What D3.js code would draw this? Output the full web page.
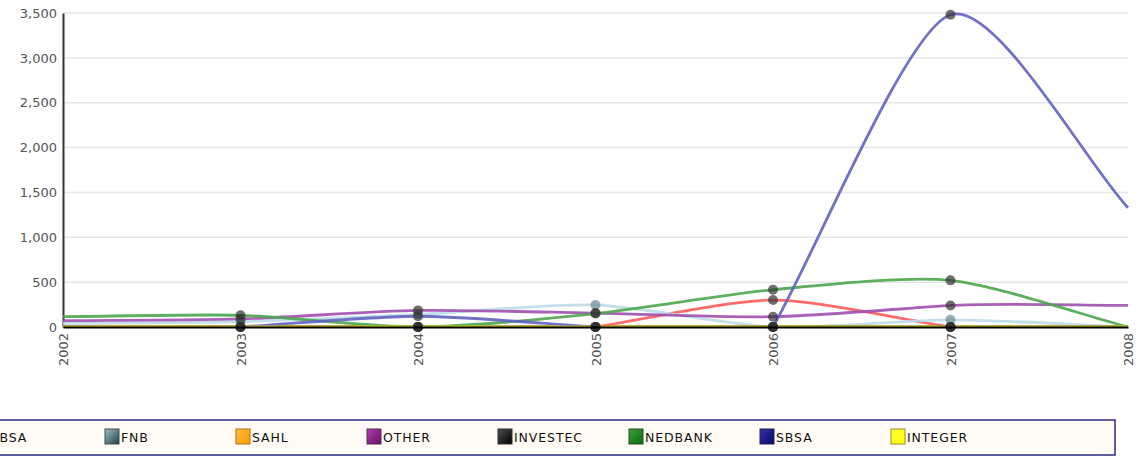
<!DOCTYPE html>
<head>
    <script src="https://d3js.org/d3.v7.min.js"></script>
    <style>
      body { margin: 0; background: #fff; }
      svg { display: block; }
    </style>
</head>

<body>
    <div id="chart"></div>
</body>

<script>

  // data
  const years = ["2002", "2003", "2004", "2005", "2006", "2007", "2008"];
  const seriesNames = ["ABSA", "FNB", "SAHL", "OTHER", "INVESTEC", "NEDBANK", "SBSA", "INTEGER"];
  const absa     = [0, 0, 0, 0, 300, 0, 0];
  const fnb      = [40, 60, 140, 245, 0, 80, 0];
  const sahl     = [0, 0, 0, 0, 0, 0, 0];
  const other    = [70, 90, 185, 155, 115, 240, 240];
  const investec = [0, 0, 0, 0, 0, 0, 0];
  const nedbank  = [115, 130, 0, 150, 415, 520, 0];
  const sbsa     = [0, 0, 120, 0, 0, 3480, 1330];
  const integer  = [0, 0, 0, 0, 0, 0, 0];
  const yTicks = [0, 500, 1000, 1500, 2000, 2500, 3000, 3500];

  const lineColors = ["#ff5a5a", "#bcdce8", "#e8a030", "#a050b0", "#222222", "#4ca64c", "#6262c0", "#e6dc20"];
  // legend swatch gradients: [light, dark, border]
  const swatch = [
    ["#ff6060", "#c01010", "#801010"],
    ["#a0c0c8", "#1e3c48", "#3a4a50"],
    ["#ffc040", "#ff9a00", "#b07010"],
    ["#b040b0", "#6a0a6a", "#503050"],
    ["#505050", "#000000", "#303030"],
    ["#40a040", "#0a6a0a", "#205020"],
    ["#3030a8", "#0a0a68", "#202050"],
    ["#ffff40", "#ffff00", "#909020"]
  ];

  const allValues = [absa, fnb, sahl, other, investec, nedbank, sbsa, integer];
  const series = seriesNames.map((name, i) => ({ name: name, values: allValues[i] }));

  // spline: tangent is the mean of the two neighbouring slopes,
  // but a flat neighbour is ignored (the curve leaves along the other one)
  function SmoothCurve(context) { this._context = context; }
  SmoothCurve.prototype = {
    areaStart() {}, areaEnd() {},
    lineStart() { this._pts = []; },
    point(x, y) { this._pts.push([+x, +y]); },
    lineEnd() {
      const p = this._pts, n = p.length, ctx = this._context;
      if (!n) return;
      const s = [];
      for (let i = 0; i < n - 1; i++) s.push((p[i + 1][1] - p[i][1]) / (p[i + 1][0] - p[i][0]));
      const m = p.map((d, i) => {
        if (i === 0) return s[0];
        if (i === n - 1) return s[n - 2];
        const a = s[i - 1], b = s[i];
        if (Math.abs(a) < 1e-6) return b;
        if (Math.abs(b) < 1e-6) return a;
        return (a + b) / 2;
      });
      ctx.moveTo(p[0][0], p[0][1]);
      for (let i = 0; i < n - 1; i++) {
        const dx = (p[i + 1][0] - p[i][0]) * 0.25;
        ctx.bezierCurveTo(p[i][0] + dx, p[i][1] + m[i] * dx,
                          p[i + 1][0] - dx, p[i + 1][1] - m[i + 1] * dx,
                          p[i + 1][0], p[i + 1][1]);
      }
    }
  };
  const curveSmooth = context => new SmoothCurve(context);

  const W = 1141, H = 457;
  const margin = {top: 13, right: 13, bottom: 130, left: 63},
    width = W - margin.left - margin.right,
    height = H - margin.top - margin.bottom;

  const svg = d3.select("#chart")
    .append("svg")
    .attr("width", W)
    .attr("height", H);

  const defs = svg.append("defs");
  defs.append("clipPath")
    .attr("id", "plotclip")
    .append("rect")
    .attr("x", 0)
    .attr("y", -3)
    .attr("width", width + 2)
    .attr("height", height + 3);

  const g = svg.append("g")
    .attr("transform", `translate(${margin.left}, ${margin.top})`);

  const x = d3.scalePoint()
    .domain(years)
    .range([0, width]);

  const y = d3.scaleLinear()
    .domain([0, 3500])
    .range([height, 0]);

  // grid
  g.append("g")
    .selectAll("line")
    .data(yTicks.slice(1))
    .join("line")
    .attr("x1", 0)
    .attr("x2", width)
    .attr("y1", d => y(d))
    .attr("y2", d => y(d))
    .attr("stroke", "#e6e6e6")
    .attr("stroke-width", 1.5);

  // Y Axis
  const yAxis = g.append("g")
    .call(d3.axisLeft(y).tickValues(yTicks).tickSize(0).tickPadding(6).tickFormat(d3.format(",")));
  yAxis.select(".domain").attr("stroke", "#333").attr("stroke-width", 2);
  yAxis.selectAll("text")
    .attr("fill", "#555")
    .style("font-family", "'DejaVu Sans', Verdana, sans-serif")
    .style("font-size", "13px");

  // lines
  const line = d3.line()
    .x((d, i) => x(years[i]))
    .y(d => y(d))
    .curve(curveSmooth);

  g.append("g")
    .attr("clip-path", "url(#plotclip)")
    .selectAll("path")
    .data(series)
    .join("path")
    .attr("d", d => line(d.values))
    .attr("fill", "none")
    .attr("stroke", (d, i) => lineColors[i])
    .attr("stroke-width", 2.8)
    .attr("stroke-opacity", 0.9);

  // markers on inner years
  const pts = [];
  series.forEach((s, si) => s.values.forEach((v, i) => {
    if (i > 0 && i < years.length - 1) pts.push({ year: years[i], v: v, si: si });
  }));
  g.append("g")
    .selectAll("circle")
    .data(pts)
    .join("circle")
    .attr("cx", d => x(d.year))
    .attr("cy", d => y(d.v))
    .attr("r", 5)
    .attr("fill", d => d.si === 1 ? "#6a8a94" : "#333")
    .attr("fill-opacity", 0.7);

  // X Axis
  const xAxis = g.append("g")
    .attr("transform", `translate(0, ${height})`)
    .call(d3.axisBottom(x).tickSize(0).tickPadding(6));
  xAxis.select(".domain").attr("stroke", "#000").attr("stroke-width", 2);
  xAxis.selectAll("text")
    .attr("fill", "#555")
    .style("font-family", "'DejaVu Sans', Verdana, sans-serif")
    .style("font-size", "13px")
    .attr("transform", "rotate(-90)")
    .attr("x", -6)
    .attr("y", 0)
    .attr("dy", "0.35em")
    .style("text-anchor", "end");

  // legend
  const legend = svg.append("g").attr("transform", "translate(-40, 420)");
  legend.append("rect")
    .attr("x", 0)
    .attr("y", 0)
    .attr("width", 1155)
    .attr("height", 35)
    .attr("fill", "#fffbf4")
    .attr("stroke", "#2a2a80")
    .attr("stroke-width", 1.5);

  swatch.forEach((c, i) => {
    const grad = defs.append("linearGradient")
      .attr("id", "sw" + i)
      .attr("x1", 0).attr("y1", 0).attr("x2", 1).attr("y2", 1);
    grad.append("stop").attr("offset", "0%").attr("stop-color", c[0]);
    grad.append("stop").attr("offset", "100%").attr("stop-color", c[1]);
  });

  const items = legend.selectAll(".item")
    .data(seriesNames)
    .join("g")
    .attr("class", "item")
    .attr("transform", (d, i) => `translate(${14 + i * 131}, 9)`);
  items.append("rect")
    .attr("width", 14)
    .attr("height", 15)
    .attr("fill", (d, i) => `url(#sw${i})`)
    .attr("stroke", (d, i) => swatch[i][2])
    .attr("stroke-width", 1);
  items.append("text")
    .attr("x", 16)
    .attr("y", 12.5)
    .attr("fill", "#111")
    .style("font-family", "'DejaVu Sans', Verdana, sans-serif")
    .style("font-size", "12.5px")
    .style("letter-spacing", "0.9px")
    .text(d => d);

</script>
